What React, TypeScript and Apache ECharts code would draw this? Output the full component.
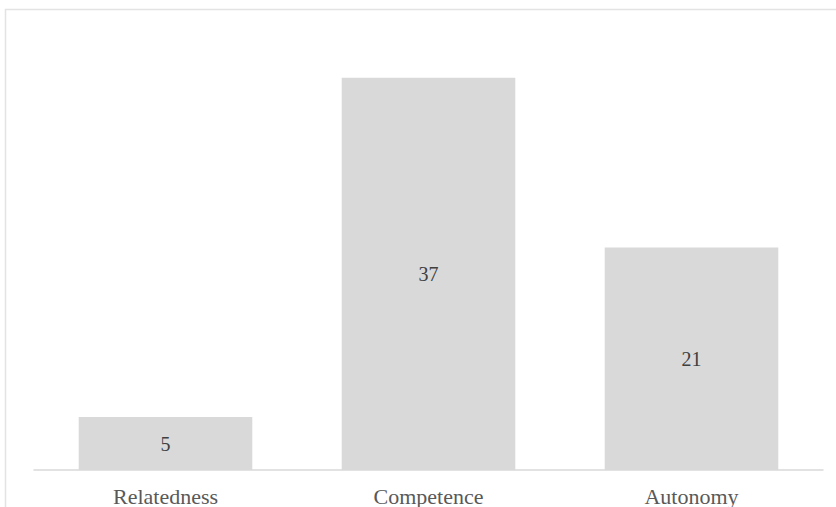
import React, { useEffect, useRef } from "react";
import * as echarts from "echarts";

const categories = ["Relatedness", "Competence", "Autonomy"];
const values = [5, 37, 21];

const SERIF = "'Liberation Serif', 'Times New Roman', serif";

export default function App() {
  const ref = useRef<HTMLDivElement>(null);
  useEffect(() => {
    if (!ref.current) return;
    const chart = echarts.init(ref.current, null, { renderer: "svg" });
    chart.setOption({
      animation: false,
      backgroundColor: "#ffffff",
      textStyle: { fontFamily: SERIF },
      graphic: [
        {
          type: "rect",
          shape: { x: 5.5, y: 9.5, width: 900, height: 600 },
          style: { fill: "none", stroke: "#e3e3e3", lineWidth: 1.5 },
          silent: true,
        },
      ],
      grid: { left: 34, right: 13, top: 46, bottom: 37, containLabel: false },
      xAxis: {
        type: "category",
        data: categories,
        axisLine: { lineStyle: { color: "#d9d9d9", width: 1.5 } },
        axisTick: { show: false },
        axisLabel: {
          color: "#595959",
          fontSize: 22,
          margin: 15,
          fontFamily: SERIF,
        },
      },
      yAxis: {
        type: "value",
        min: 0,
        max: 40,
        show: false,
        splitLine: { show: false },
      },
      series: [
        {
          type: "bar",
          data: values,
          barWidth: "66%",
          itemStyle: { color: "#d9d9d9" },
          label: {
            show: true,
            position: "inside",
            color: "#404040",
            fontSize: 20,
            fontFamily: SERIF,
          },
        },
      ],
    });
    return () => chart.dispose();
  }, []);
  return (
    <div
      ref={ref}
      style={{ position: "fixed", left: 0, top: 0, width: 836, height: 507 }}
    />
  );
}
